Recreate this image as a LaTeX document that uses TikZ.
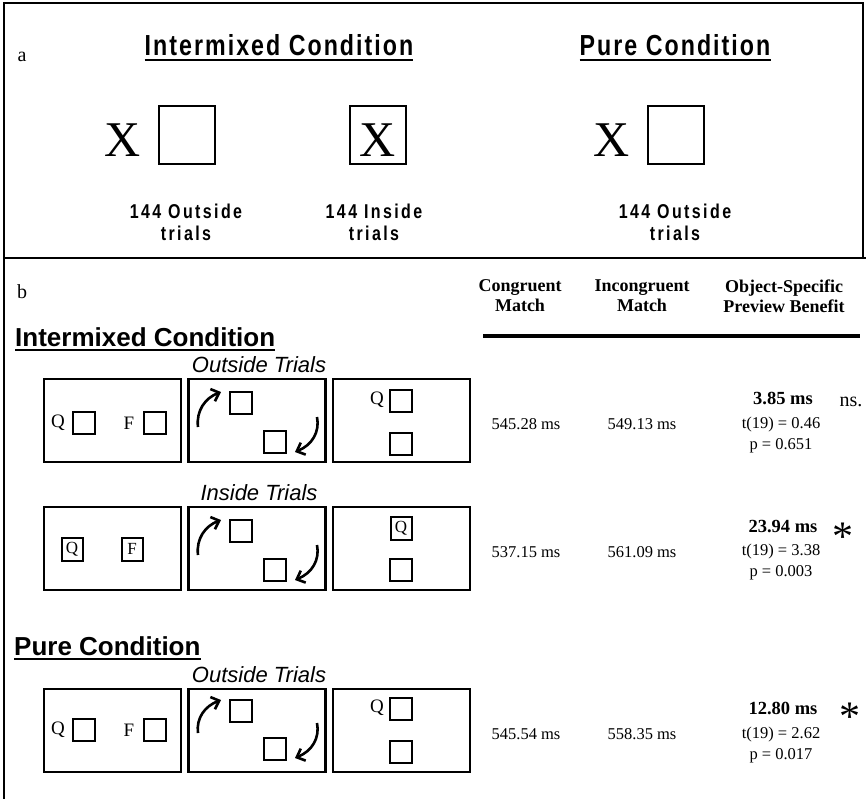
\documentclass[tikz,border=0pt]{standalone}
\usepackage{fontspec}
\setmainfont{Liberation Serif}
\setsansfont{Liberation Sans}
\newfontfamily\condfont[FakeStretch=0.8,LetterSpace=7]{Liberation Sans}
\newfontfamily\labfont[FakeStretch=0.8,LetterSpace=12]{Liberation Sans}
\usetikzlibrary{positioning,arrows.meta,calc}

\begin{document}
\begin{tikzpicture}[x=1pt, y=-1pt,
        frame/.style={line width=2.5pt, line cap=rect},
        ulined/.style={line width=2pt},
        atitle/.style={inner sep=0, font=\condfont\bfseries\fontsize{29}{32}\selectfont},
        alab/.style={inner sep=0, align=center, font=\labfont\bfseries\fontsize{20}{22}\selectfont},
        bigx/.style={inner sep=0, font=\fontsize{50}{50}\selectfont},
        xbox/.style={draw, line width=2pt, minimum width=56pt, minimum height=58pt, inner sep=0},
        btitle/.style={inner sep=0, anchor=base west, font=\sffamily\bfseries\fontsize{26}{30}\selectfont},
        trial/.style={inner sep=0, anchor=base, font=\sffamily\itshape\fontsize{22}{26}\selectfont},
        panel/.style={draw, line width=2.6pt, minimum width=137pt, minimum height=83pt, inner sep=0},
        sq/.style={draw, line width=2.4pt, minimum size=22pt, inner sep=0},
        thinsq/.style={sq, line width=1.4pt},
        letter/.style={inner sep=0, font=\fontsize{19}{19}\selectfont},
        lbox/.style={draw, line width=2pt, minimum width=21pt, minimum height=23pt, inner sep=0, font=\fontsize{17}{17}\selectfont},
        turn/.style={line width=2.6pt, -{Straight Barb[length=7pt,width=13pt]}},
        head/.style={inner sep=0, align=center, font=\bfseries\fontsize{18}{20}\selectfont},
        val/.style={inner sep=0, anchor=base, font=\fontsize{16.5}{18}\selectfont},
        bval/.style={inner sep=0, anchor=base, font=\bfseries\fontsize{18.5}{20}\selectfont},
        star/.style={inner sep=0, anchor=base, font=\fontsize{42}{42}\selectfont}
    ]
        \useasboundingbox (0,0) rectangle (866,798);

        % frame
        \draw[frame] (4,798) -- (4,3) -- (863,3) -- (863,258);
        \draw[frame] (4,258) -- (866,258);

        % panel a
        \node[inner sep=0, font=\fontsize{20}{20}\selectfont] (la) at (22,57) {a};
        \node[atitle, anchor=base] (tmix) at (279,55) {Intermixed Condition};
        \draw[ulined] ($(tmix.base west)+(0,5)$) -- ($(tmix.base east)+(0,5)$);
        \node[atitle, anchor=base] (tpure) at (675,55) {Pure Condition};
        \draw[ulined] ($(tpure.base west)+(0,5)$) -- ($(tpure.base east)+(0,5)$);

        \node[bigx] (x1) at (123,140) {X};
        \node[xbox] (bx1) at (187,135) {};
        \node[xbox] (bx2) at (378,135) {};
        \node[bigx] (x2) at (378,140) {X};
        \node[bigx] (x3) at (612,140) {X};
        \node[xbox] (bx3) at (676,135) {};

        \node[alab] (n1) at (186,222) {144 Outside\\trials};
        \node[alab] (n2) at (374,222) {144 Inside\\trials};
        \node[alab] (n3) at (675,222) {144 Outside\\trials};

        % panel b
        \node[inner sep=0, font=\fontsize{20}{20}\selectfont] (lb) at (22,292) {b};
        \node[head] (hcon) at (520,296) {Congruent\\Match};
        \node[head] (hinc) at (642,296) {Incongruent\\Match};
        \node[head] (hobj) at (784,296) {Object-Specific\\Preview Benefit};
        \coordinate (rl) at (483,336);
        \coordinate (rr) at (860,336);
        \draw[line width=4pt] (rl) -- (rr);

        \node[btitle] (bmix) at (15,346) {Intermixed Condition};
        \draw[ulined] ($(bmix.base west)+(0,3.5)$) -- ($(bmix.base east)+(0,3.5)$);
        \node[btitle] (bpure) at (14,655) {Pure Condition};
        \draw[ulined] ($(bpure.base west)+(0,3.5)$) -- ($(bpure.base east)+(0,3.5)$);

        % Row 1: intermixed, outside
        \begin{scope}[shift={(0,379)}]
            \node[trial] (r1h) at (259,-7) {Outside Trials};
            \node[panel] (r1a) at (112.5,41.5) {};
            \node[panel] (r1b) at (257,41.5) {};
            \node[panel] (r1c) at (401.5,41.5) {};
            \node[letter] (r1q) at (58,44) {Q};
            \node[sq] (r1qs) at (84,44) {};
            \node[letter] (r1f) at (129,44) {F};
            \node[sq] (r1fs) at (155,44) {};
            \node[thinsq] (r1s1) at (241,24) {};
            \node[thinsq] (r1s2) at (275,63) {};
            \coordinate (r1u1) at (198,48);
            \coordinate (r1u2) at (221,13);
            \draw[turn] (r1u1) .. controls (196,32) and (205,19) .. (r1u2);
            \coordinate (r1d1) at (317,38);
            \coordinate (r1d2) at (295,73);
            \draw[turn] (r1d1) .. controls (320,53) and (312,66) .. (r1d2);
            \node[letter] (r1tq) at (377,21) {Q};
            \node[sq] (r1t1) at (401,22) {};
            \node[sq] (r1t2) at (401,65) {};
            \node[val] (r1v1) at (526,50) {545.28 ms};
            \node[val] (r1v2) at (642,50) {549.13 ms};
            \node[bval] (r1v3) at (783,25) {3.85 ms};
            \node[val] (r1v4) at (781,49) {t(19) = 0.46};
            \node[val] (r1v5) at (781,70) {p = 0.651};
            \node[inner sep=0, anchor=base, font=\fontsize{20}{20}\selectfont] (r1ns) at (851,27) {ns.};
        \end{scope}

        % Row 2: intermixed, inside
        \begin{scope}[shift={(0,507)}]
            \node[trial] (r2h) at (259,-7) {Inside Trials};
            \node[panel] (r2a) at (112.5,41.5) {};
            \node[panel] (r2b) at (257,41.5) {};
            \node[panel] (r2c) at (401.5,41.5) {};
            \node[lbox] (r2q) at (72,42) {Q};
            \node[lbox] (r2f) at (132,42) {F};
            \node[sq] (r2s1) at (241,24) {};
            \node[sq] (r2s2) at (275,63) {};
            \coordinate (r2u1) at (198,48);
            \coordinate (r2u2) at (221,13);
            \draw[turn] (r2u1) .. controls (196,32) and (205,19) .. (r2u2);
            \coordinate (r2d1) at (317,38);
            \coordinate (r2d2) at (295,73);
            \draw[turn] (r2d1) .. controls (320,53) and (312,66) .. (r2d2);
            \node[lbox] (r2tq) at (401,21) {Q};
            \node[sq] (r2t2) at (401,63) {};
            \node[val] (r2v1) at (526,50) {537.15 ms};
            \node[val] (r2v2) at (642,50) {561.09 ms};
            \node[bval] (r2v3) at (783,25) {23.94 ms};
            \node[val] (r2v4) at (781,48) {t(19) = 3.38};
            \node[val] (r2v5) at (781,69) {p = 0.003};
            \node[star] (r2st) at (843,43) {*};
        \end{scope}

        % Row 3: pure, outside
        \begin{scope}[shift={(0,689)}]
            \node[trial] (r3h) at (259,-7) {Outside Trials};
            \node[panel] (r3a) at (112.5,41.5) {};
            \node[panel] (r3b) at (257,41.5) {};
            \node[panel] (r3c) at (401.5,41.5) {};
            \node[letter] (r3q) at (58,41) {Q};
            \node[sq] (r3qs) at (84,41) {};
            \node[letter] (r3f) at (129,41) {F};
            \node[sq] (r3fs) at (155,41) {};
            \node[sq] (r3s1) at (241,22) {};
            \node[sq] (r3s2) at (275,60) {};
            \coordinate (r3u1) at (198,44);
            \coordinate (r3u2) at (221,11);
            \draw[turn] (r3u1) .. controls (196,29) and (205,17) .. (r3u2);
            \coordinate (r3d1) at (317,34);
            \coordinate (r3d2) at (295,69);
            \draw[turn] (r3d1) .. controls (320,49) and (312,62) .. (r3d2);
            \node[letter] (r3tq) at (377,19) {Q};
            \node[sq] (r3t1) at (401,20) {};
            \node[sq] (r3t2) at (401,63) {};
            \node[val] (r3v1) at (526,50) {545.54 ms};
            \node[val] (r3v2) at (642,50) {558.35 ms};
            \node[bval] (r3v3) at (783,25) {12.80 ms};
            \node[val] (r3v4) at (781,49) {t(19) = 2.62};
            \node[val] (r3v5) at (781,70) {p = 0.017};
            \node[star] (r3st) at (850,41) {*};
        \end{scope}
    \end{tikzpicture}
\end{document}
